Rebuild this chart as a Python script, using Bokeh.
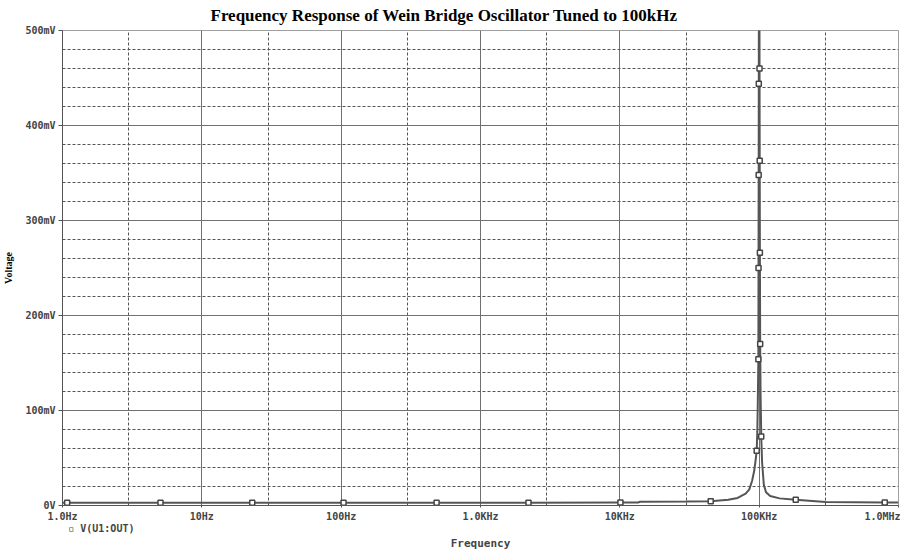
from bokeh.plotting import figure
from bokeh.models import FixedTicker, LogAxis
from bokeh.embed import file_html
from bokeh.resources import INLINE

# Output voltage of the oscillator (mV) against frequency (Hz)
freq_hz = [1, 1.08, 5.05, 23, 104, 484, 2210, 10100, 13500, 14000, 30000,
           44900, 60000, 70000, 80000, 85000, 89000, 92000, 94000, 96000,
           97000, 97800, 98700, 98950, 99200, 99400, 99550, 100000,
           100450, 100600, 100900, 101200, 101700, 102400, 103500, 105000,
           108000, 112000, 120000, 140000, 183000, 300000, 797000, 1000000]
volt_mv = [3.0, 3.0, 3.0, 3.0, 3.0, 3.0, 3.0, 3.1, 3.1, 3.9, 4.1,
           4.6, 6.0, 8.0, 12.5, 17.0, 26.0, 36.0, 46.0, 57.6,
           78.0, 110.0, 154.0, 250.0, 348.0, 444.0, 540.0, 640.0,
           540.0, 460.0, 363.0, 266.0, 170.0, 115.0, 72.6, 45.0,
           22.0, 14.0, 10.0, 7.5, 6.0, 3.7, 3.2, 3.1]

# Trace marker positions
marker_freq_hz = [1.08, 5.05, 23, 104, 484, 2210, 10100, 44900, 96000, 98700,
                  98950, 99200, 99400, 100600, 100900, 101200, 101700, 103500,
                  183000, 797000]
marker_volt_mv = [3.0, 3.0, 3.0, 3.0, 3.0, 3.0, 3.1, 4.6, 57.6, 154.0,
                  250.0, 348.0, 444.0, 460.0, 363.0, 266.0, 170.0, 72.6,
                  6.0, 3.2]

x_ticks = [1, 10, 100, 1000, 10000, 100000, 1000000]
x_tick_labels = ["1.0Hz", "10Hz", "100Hz", "1.0KHz", "10KHz", "100KHz", "1.0MHz"]
x_minor = [3, 30, 300, 3000, 30000, 300000]

y_ticks = [0, 100, 200, 300, 400, 500]
y_tick_labels = ["0V", "100mV", "200mV", "300mV", "400mV", "500mV"]
y_minor = [v for v in range(0, 501, 20) if v % 100 != 0]

trace_name = "V(U1:OUT)"

MONO = "DejaVu Sans Mono"
INK = "#555555"
TXT = "#444444"

p = figure(width=900, height=554, x_axis_type="log",
           x_range=(1, 1000000), y_range=(0, 500),
           output_backend="svg", toolbar_location=None,
           min_border_left=62, min_border_right=2,
           min_border_top=30, min_border_bottom=49,
           background_fill_color="white", border_fill_color="white")

p.title.text = "Frequency Response of Wein Bridge Oscillator Tuned to 100kHz"
p.title.text_font = "Liberation Serif"
p.title.text_font_size = "17px"
p.title.text_font_style = "bold"
p.title.text_color = "black"
p.title.align = "left"
p.title.vertical_align = "top"
p.title.offset = 148
p.title.standoff = 8

p.outline_line_color = "#a0a0a0"
p.outline_line_width = 1

# axes
p.xaxis.ticker = FixedTicker(ticks=x_ticks, minor_ticks=x_minor)
p.yaxis.ticker = FixedTicker(ticks=y_ticks, minor_ticks=y_minor)
p.xaxis.major_label_overrides = dict(zip(x_ticks, x_tick_labels))
p.yaxis.major_label_overrides = dict(zip(y_ticks, y_tick_labels))


def style_axis(ax):
    ax.axis_line_color = INK
    ax.axis_line_width = 1
    ax.major_tick_line_color = INK
    ax.major_tick_out = 4
    ax.major_tick_in = 0
    ax.minor_tick_out = 0
    ax.minor_tick_in = 0
    ax.major_label_text_font = MONO
    ax.major_label_text_font_size = "10px"
    ax.major_label_text_font_style = "bold"
    ax.major_label_text_color = TXT


style_axis(p.xaxis[0])
style_axis(p.yaxis[0])
p.xaxis.major_tick_out = 2
p.xaxis.major_label_standoff = 3
p.yaxis.major_label_standoff = 3

p.yaxis.axis_label = "Voltage"
p.yaxis.axis_label_text_font = "Liberation Serif"
p.yaxis.axis_label_text_font_size = "10px"
p.yaxis.axis_label_text_font_style = "bold"
p.yaxis.axis_label_text_color = "black"
p.yaxis.axis_label_standoff = 8

# second row below the frequency axis: trace legend and axis title
legend_axis = LogAxis(ticker=FixedTicker(ticks=[1.9]),
                      major_label_overrides={1.9: "\u25ab " + trace_name})
style_axis(legend_axis)
legend_axis.axis_line_color = None
legend_axis.major_tick_line_color = None
legend_axis.major_tick_out = 0
legend_axis.major_label_standoff = -2
legend_axis.axis_label = "Frequency"
legend_axis.axis_label_text_font = MONO
legend_axis.axis_label_text_font_size = "11px"
legend_axis.axis_label_text_font_style = "bold"
legend_axis.axis_label_text_color = TXT
legend_axis.axis_label_standoff = 0
p.add_layout(legend_axis, "below")

# grid: solid at major ticks, dashed at minor ticks
for g in (p.xgrid, p.ygrid):
    g.grid_line_color = "#707070"
    g.grid_line_width = 1
    g.minor_grid_line_color = "#555555"
    g.minor_grid_line_dash = "3 2"
    g.minor_grid_line_width = 1

# trace
p.line(freq_hz, volt_mv, line_color=INK, line_width=2)
p.scatter(marker_freq_hz, marker_volt_mv, marker="square", size=5,
          line_color=TXT, fill_color="white", line_width=1.5)

open("out.html", "w").write(file_html(p, INLINE))
